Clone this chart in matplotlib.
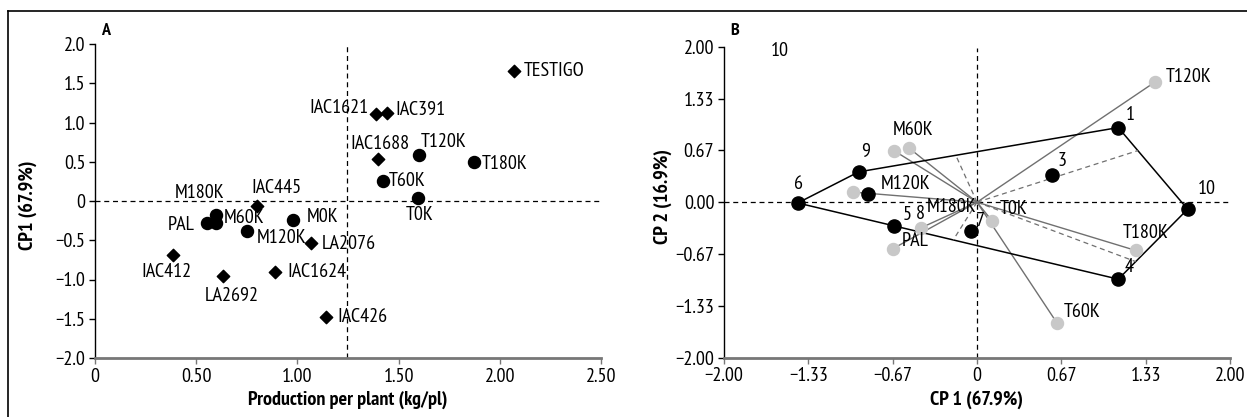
import matplotlib
matplotlib.use("Agg")
import matplotlib.pyplot as plt
from matplotlib.lines import Line2D
import numpy as np

plt.rcParams['font.family'] = ['PT Sans Narrow', 'DejaVu Sans']
plt.rcParams['font.size'] = 14.5

# ---- Panel A data: production vs CP1 ----
geno_names = ['TESTIGO', 'IAC1621', 'IAC391', 'IAC1688', 'IAC445',
              'LA2076', 'IAC412', 'LA2692', 'IAC1624', 'IAC426']
geno_x = [2.07, 1.39, 1.445, 1.40, 0.80, 1.067, 0.387, 0.634, 0.891, 1.141]
geno_y = [1.66, 1.11, 1.12, 0.54, -0.07, -0.53, -0.69, -0.96, -0.90, -1.48]

trt_names = ['T120K', 'T180K', 'T60K', 'T0K', 'M180K', 'M60K', 'PAL', 'M0K', 'M120K']
trt_x = [1.60, 1.874, 1.425, 1.596, 0.598, 0.598, 0.551, 0.98, 0.753]
trt_y = [0.58, 0.50, 0.26, 0.035, -0.18, -0.28, -0.28, -0.24, -0.38]

mean_prod = 1.243

# ---- Panel B data: biplot CP1 vs CP2 ----
env_names = ['1', '', '3', '4', '5', '6', '7', '9', '10']
env_x = [1.117, -0.859, 0.593, 1.117, -0.656, -1.417, -0.047, -0.935, 1.665]
env_y = [0.96, 0.10, 0.35, -0.99, -0.30, -0.01, -0.37, 0.39, -0.09]
hull_order = ['6', '9', '1', '10', '4']

vec_names = ['T120K', 'M60K', '', 'M120K', 'M180K', 'PAL', 'T0K', 'T180K', 'T60K']
vec_x = [1.411, -0.54, -0.653, -0.98, -0.443, -0.667, 0.119, 1.253, 0.635]
vec_y = [1.55, 0.70, 0.66, 0.13, -0.33, -0.60, -0.24, -0.62, -1.56]

# label offsets in pixels (x, y, ha)
geno_off = [(10, 0, 'left'), (-8, 6, 'right'), (8, 3, 'left'), (2, 15, 'center'),
            (20, 18, 'center'), (11, -1, 'left'), (-7, -17, 'center'),
            (8, -20, 'center'), (12, 0, 'left'), (11, 0, 'left')]
trt_off = [(2, 13, 'left'), (7, -2, 'left'), (5, 0, 'left'), (2, -17, 'center'),
           (-16, 22, 'center'), (8, 5, 'left'), (-12, -2, 'right'),
           (13, 3, 'left'), (9, -7, 'left')]
env_off = [(12, 13), (0, 0), (10, 14), (11, 12), (13, 11), (1, 19), (9, 10), (7, 20), (19, 20)]
vec_off = [(10, 5, 'left'), (4, 18, 'center'), (0, 0, 'left'), (53, 8, 'center'),
           (31, 21, 'center'), (9, 8, 'left'), (8, 12, 'left'), (10, 17, 'center'),
           (6, 11, 'left')]

fig = plt.figure(figsize=(12.47, 4.17), dpi=100)
W, H = 1247, 417


def style_axes(ax):
    ax.spines['top'].set_visible(False)
    ax.spines['right'].set_visible(False)
    ax.spines['left'].set_color('black')
    ax.spines['left'].set_linewidth(1.0)
    ax.spines['bottom'].set_color('#777777')
    ax.spines['bottom'].set_linewidth(2.0)
    ax.tick_params(direction='out', length=4, width=1, labelsize=14.5, pad=3)
    ax.tick_params(axis='x', color='#777777')


# ----- Panel A -----
axA = fig.add_axes([95 / W, 1 - 358 / H, (601 - 95) / W, (358 - 44) / H])
axA.set_xlim(0, 2.5)
axA.set_ylim(-2.0, 2.0)
axA.set_xticks([0, 0.5, 1.0, 1.5, 2.0, 2.5])
axA.set_xticklabels(['0', '0.50', '1.00', '1.50', '2.00', '2.50'])
axA.set_yticks([2.0, 1.5, 1.0, 0.5, 0, -0.5, -1.0, -1.5, -2.0])
axA.set_yticklabels(['2.0', '1.5', '1.0', '0.5', '0', '\u22120.5', '\u22121.0', '\u22121.5', '\u22122.0'])
style_axes(axA)
axA.axhline(0, color='black', lw=0.9, ls=(0, (4, 3)))
axA.plot([mean_prod, mean_prod], [-2.0, 1.97], color='black', lw=0.9, ls=(0, (4, 3)))

axA.scatter(geno_x, geno_y, marker='D', s=40, color='black', zorder=3)
axA.scatter(trt_x, trt_y, marker='o', s=75, color='black', zorder=3)
for n, x, y, (dx, dy, ha) in zip(geno_names, geno_x, geno_y, geno_off):
    axA.annotate(n, (x, y), xytext=(dx, dy), textcoords='offset pixels',
                 ha=ha, va='center')
for n, x, y, (dx, dy, ha) in zip(trt_names, trt_x, trt_y, trt_off):
    axA.annotate(n, (x, y), xytext=(dx, dy), textcoords='offset pixels',
                 ha=ha, va='center')

fig.text(106 / W, 1 - 31 / H, 'A', fontsize=13, fontweight='bold', ha='center', va='center')
fig.text(28 / W, 1 - 205 / H, 'CP1 (67.9%)', rotation=90, fontsize=14.5,
         fontweight='bold', ha='center', va='center')
fig.text(348 / W, 1 - 400 / H, 'Production per plant (kg/pl)', fontsize=14.5,
         fontweight='bold', ha='center', va='center')

# ----- Panel B -----
axB = fig.add_axes([724 / W, 1 - 357.7 / H, (1230 - 724) / W, (357.7 - 46.7) / H])
axB.set_xlim(-2.0, 2.0)
axB.set_ylim(-2.0, 2.0)
t = [-2.0, -4 / 3, -2 / 3, 0, 2 / 3, 4 / 3, 2.0]
axB.set_xticks(t)
axB.set_xticklabels(['\u22122.00', '\u22121.33', '\u22120.67', '0', '0.67', '1.33', '2.00'])
axB.set_yticks(t)
axB.set_yticklabels(['\u22122.00', '\u22121.33', '\u22120.67', '0.00', '0.67', '1.33', '2.00'])
style_axes(axB)
axB.axhline(0, color='black', lw=0.9, ls=(0, (4, 3)))
axB.plot([0, 0], [-2.0, 1.98], color='black', lw=0.9, ls=(0, (4, 3)))

# vectors from origin to treatments
for x, y in zip(vec_x, vec_y):
    axB.plot([0, x], [0, y], color='#707070', lw=1.0, zorder=2)

# polygon over the outer environments
env_pos = {n: (x, y) for n, x, y in zip(env_names, env_x, env_y) if n}
hx = [env_pos[n][0] for n in hull_order] + [env_pos[hull_order[0]][0]]
hy = [env_pos[n][1] for n in hull_order] + [env_pos[hull_order[0]][1]]
axB.plot(hx, hy, color='black', lw=1.1, zorder=2)

# perpendiculars from origin to polygon sides
for i in range(1, len(hx) - 1):
    p = np.array([hx[i], hy[i]])
    q = np.array([hx[i + 1], hy[i + 1]])
    d = q - p
    s = -np.dot(p, d) / np.dot(d, d)
    if 0 <= s <= 1:
        f = p + s * d
        axB.plot([0, f[0]], [0, f[1]], color='#707070', lw=0.9, ls=(0, (4, 3)), zorder=2)

axB.scatter(vec_x, vec_y, s=75, color='#c8c8c8', zorder=3)
axB.scatter(env_x, env_y, s=90, color='black', zorder=4)

for n, x, y, (dx, dy) in zip(env_names, env_x, env_y, env_off):
    if n:
        axB.annotate(n, (x, y), xytext=(dx, dy), textcoords='offset pixels',
                     ha='center', va='center')
for n, x, y, (dx, dy, ha) in zip(vec_names, vec_x, vec_y, vec_off):
    if n:
        axB.annotate(n, (x, y), xytext=(dx, dy), textcoords='offset pixels',
                     ha=ha, va='center')
# environment 8 sits on the M180K point
i8 = vec_names.index('M180K')
axB.annotate('8', (vec_x[i8], vec_y[i8]), xytext=(-1, 14), textcoords='offset pixels',
             ha='center', va='center')
axB.text(-1.557, 1.94, '10', ha='center', va='center')

fig.text(735 / W, 1 - 31 / H, 'B', fontsize=13, fontweight='bold', ha='center', va='center')
fig.text(663 / W, 1 - 197 / H, 'CP 2 (16.9%)', rotation=90, fontsize=14.5,
         fontweight='bold', ha='center', va='center')
fig.text(977 / W, 1 - 400 / H, 'CP 1 (67.9%)', fontsize=14.5,
         fontweight='bold', ha='center', va='center')

# outer frame (top and left only)
fig.add_artist(Line2D([8 / W, 1.0], [1 - 11 / H, 1 - 11 / H], color='black', lw=1.2))
fig.add_artist(Line2D([8 / W, 8 / W], [0, 1 - 11 / H], color='black', lw=1.2))

fig.savefig('out.png', dpi=100)
